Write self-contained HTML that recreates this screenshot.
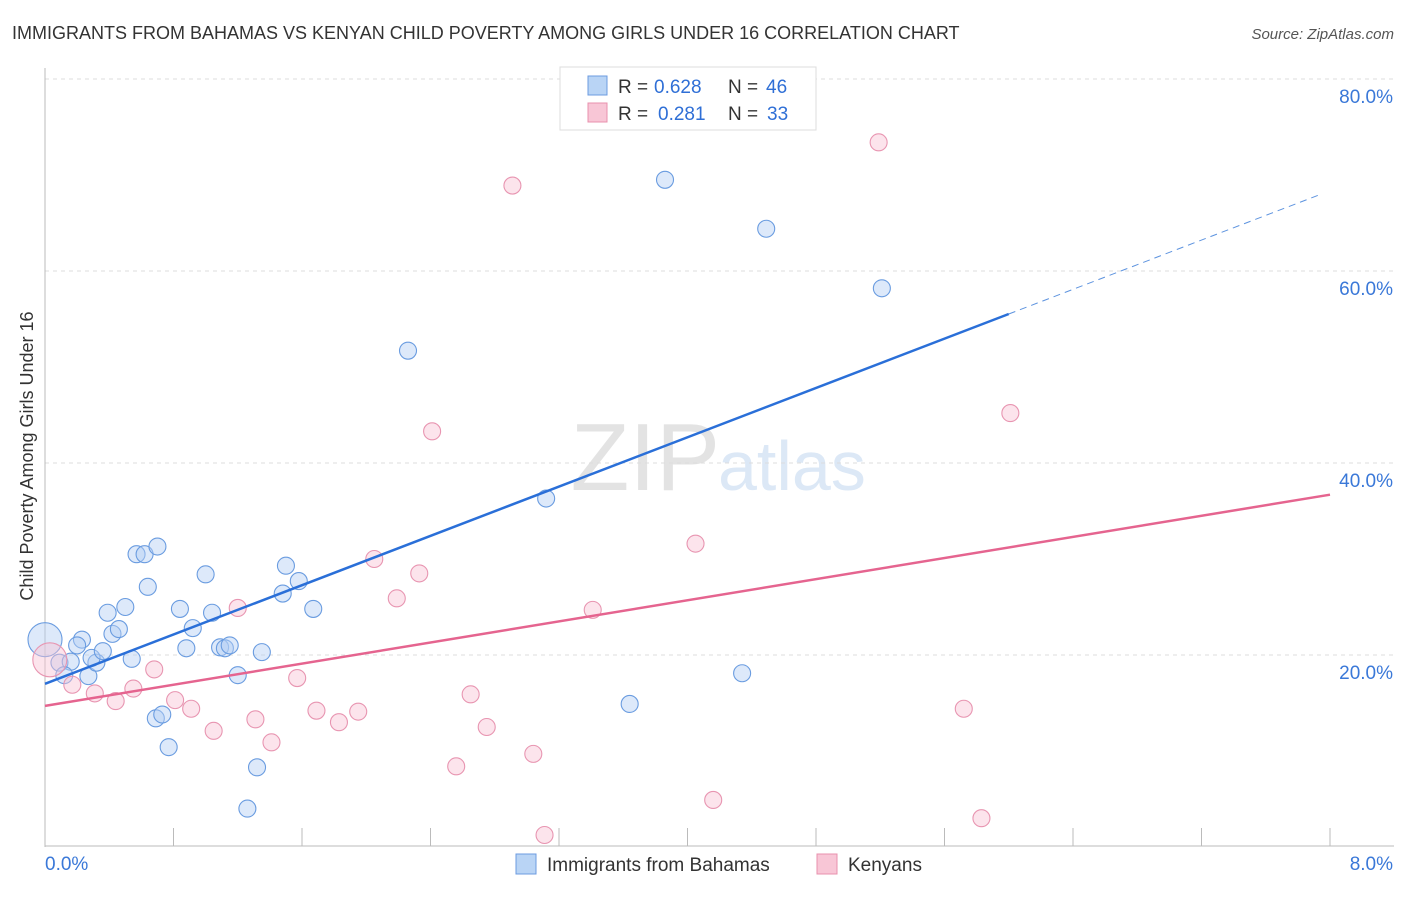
<!DOCTYPE html>
<html><head><meta charset="utf-8"><style>
body{margin:0;background:#fff;font-family:"Liberation Sans",sans-serif;}
svg text{font-family:"Liberation Sans",sans-serif;}
</style></head><body>
<svg id="chart" width="1406" height="892">
<text x="12" y="39" font-size="18" fill="#333">IMMIGRANTS FROM BAHAMAS VS KENYAN CHILD POVERTY AMONG GIRLS UNDER 16 CORRELATION CHART</text>
<text x="1394" y="39" font-size="15" fill="#555" text-anchor="end" font-style="italic">Source: ZipAtlas.com</text>
<text x="720" y="490" font-size="96" fill="#e3e3e3" text-anchor="end" font-family="Liberation Serif">ZIP</text>
<text x="718" y="490" font-size="70" fill="#dce8f6">atlas</text>
<text transform="translate(33,456) rotate(-90)" font-size="18" fill="#333" text-anchor="middle">Child Poverty Among Girls Under 16</text>
<g id="grid"></g><g id="marks"></g>
<g>
<rect x="560" y="67" width="256" height="63" fill="#fff" stroke="#ddd"/>
<rect x="588" y="76" width="19" height="19" fill="#b9d4f5" stroke="#6c9be0"/>
<rect x="588" y="103" width="19" height="19" fill="#f8c6d6" stroke="#e890ad"/>
<text x="618" y="93" font-size="19" fill="#333">R =</text>
<text x="654" y="93" font-size="19" fill="#2f6fd6">0.628</text>
<text x="728" y="93" font-size="19" fill="#333">N =</text>
<text x="766" y="93" font-size="19" fill="#2f6fd6">46</text>
<text x="618" y="120" font-size="19" fill="#333">R =</text>
<text x="658" y="120" font-size="19" fill="#2f6fd6">0.281</text>
<text x="728" y="120" font-size="19" fill="#333">N =</text>
<text x="767" y="120" font-size="19" fill="#2f6fd6">33</text>
</g>
<g>
<rect x="516" y="854" width="20" height="20" fill="#b9d4f5" stroke="#6c9be0"/>
<text x="547" y="871" font-size="19" fill="#333">Immigrants from Bahamas</text>
<rect x="817" y="854" width="20" height="20" fill="#f8c6d6" stroke="#e890ad"/>
<text x="848" y="871" font-size="19" fill="#333">Kenyans</text>
</g>
</svg>
<script>
const xTicks=[0,8];
const yTicks=[20,40,60,80];
const blueX=[0.00,0.09,0.16,0.12,0.23,0.20,0.27,0.32,0.29,0.36,0.39,0.42,0.46,0.50,0.54,0.57,0.62,0.70,0.64,0.69,0.73,0.77,0.84,0.88,0.92,1.00,1.04,1.09,1.12,1.15,1.20,1.26,1.32,1.35,1.48,1.50,1.58,1.67,2.26,3.12,3.64,3.86,4.34,4.49,5.21];
const blueY=[21.6,19.2,19.3,17.9,21.6,21.0,17.8,19.2,19.7,20.4,24.4,22.2,22.7,25.0,19.6,30.5,30.5,31.3,27.1,13.4,13.8,10.4,24.8,20.7,22.8,28.4,24.4,20.8,20.7,21.0,17.9,4.0,8.3,20.3,26.4,29.3,27.7,24.8,51.7,36.3,14.9,69.5,18.1,64.4,58.2];
const pinkX=[0.03,0.17,0.31,0.44,0.55,0.68,0.81,0.91,1.05,1.20,1.31,1.41,1.57,1.69,1.83,1.95,2.05,2.19,2.33,2.41,2.56,2.65,2.75,2.91,3.04,3.11,3.41,4.05,4.16,5.19,5.72,5.83,6.01];
const pinkY=[19.5,16.9,16.0,15.2,16.5,18.5,15.3,14.4,12.1,24.9,13.3,10.9,17.6,14.2,13.0,14.1,30.0,25.9,28.5,43.3,8.4,15.9,12.5,68.9,9.7,1.25,24.7,31.6,4.9,73.4,14.4,3.0,45.2];
const blueTrend=[17.0,6.42];
const pinkTrend=[14.7,2.75];
const X=v=>45+v/8*1285, Y=v=>847-v/20*192;
const NS="http://www.w3.org/2000/svg";
function mk(t,a,p){const e=document.createElementNS(NS,t);for(const k in a)e.setAttribute(k,a[k]);p.appendChild(e);return e;}
const grid=document.getElementById('grid'), marks=document.getElementById('marks');
yTicks.forEach(t=>{
 const l=mk('line',{x1:45,x2:1394,y1:Y(t),y2:Y(t),stroke:'#ddd','stroke-dasharray':'4,4'},grid);
 
 
 const tx=mk('text',{x:1393,y:Y(t)+24,'font-size':19,fill:'#3a78d8','text-anchor':'end'},grid);
 tx.textContent=t.toFixed(1)+'%';
 
 
});
mk('line',{x1:45,x2:45,y1:68,y2:847,stroke:'#bbb'},grid);
mk('line',{x1:45,x2:1394,y1:846,y2:846,stroke:'#bbb'},grid);
for(let i=0;i<=10;i++){const x=X(i*0.8);mk('line',{x1:x,x2:x,y1:828,y2:846,stroke:'#bbb'},grid);}
xTicks.forEach((t,i)=>{
 const tx=mk('text',{x:i?1393:45,y:870,'font-size':19,fill:'#3a78d8','text-anchor':i?'end':'start'},grid);
 tx.textContent=t.toFixed(1)+'%';
 
 
});
function pts(xs,ys,fill,stroke,name){xs.forEach((x,i)=>{
 const c=mk('circle',{cx:X(x),cy:Y(ys[i]),r:i==0?17:8.5,fill:fill,'fill-opacity':0.45,stroke:stroke,'stroke-width':1.1},marks);
 
 
});}
pts(blueX,blueY,'#b3cff4','#6a9ce0','bahamas-point');
pts(pinkX,pinkY,'#f8c4d5','#e895b1','kenyan-point');
let l=mk('line',{x1:X(0),y1:Y(blueTrend[0]),x2:X(6),y2:Y(blueTrend[0]+blueTrend[1]*6),stroke:'#2a6fd8','stroke-width':2.5},marks);


l=mk('line',{x1:X(6),y1:Y(blueTrend[0]+blueTrend[1]*6),x2:X(7.95),y2:Y(blueTrend[0]+blueTrend[1]*7.95),stroke:'#5d93df','stroke-width':1,'stroke-dasharray':'7,5'},marks);


l=mk('line',{x1:X(0),y1:Y(pinkTrend[0]),x2:X(8),y2:Y(pinkTrend[0]+pinkTrend[1]*8),stroke:'#e5648f','stroke-width':2.5},marks);


</script>
</body></html>
